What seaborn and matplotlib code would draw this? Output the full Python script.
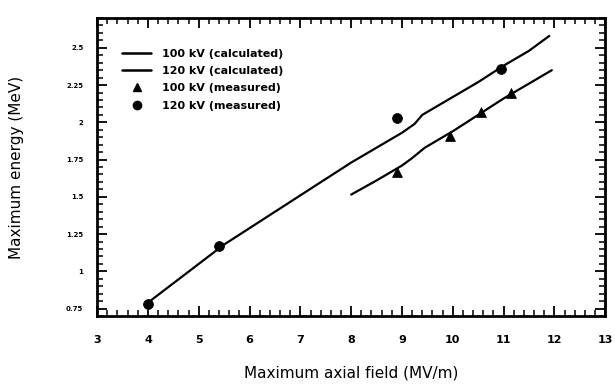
import numpy as np
import matplotlib
matplotlib.use("Agg")
import matplotlib.pyplot as plt
import seaborn as sns
import pandas as pd
from matplotlib.ticker import MultipleLocator, FuncFormatter
from matplotlib.lines import Line2D

# calculated curves
calc120_x = [4.0, 4.5, 5.0, 5.5, 6.0, 6.5, 7.0, 7.5, 8.0, 8.5, 9.0, 9.25, 9.4, 9.7, 10.0, 10.5, 11.0, 11.5, 11.9]
calc120_y = [0.79, 0.92, 1.05, 1.18, 1.29, 1.40, 1.51, 1.62, 1.73, 1.83, 1.93, 1.99, 2.05, 2.11, 2.17, 2.27, 2.38, 2.48, 2.58]
calc100_x = [8.0, 8.5, 9.0, 9.2, 9.45, 10.0, 10.5, 11.0, 11.5, 11.95]
calc100_y = [1.515, 1.61, 1.71, 1.76, 1.83, 1.94, 2.05, 2.16, 2.26, 2.35]

# measured points
meas100_x = [8.9, 9.95, 10.55, 11.15]
meas100_y = [1.67, 1.91, 2.07, 2.2]
meas120_x = [4.0, 5.4, 8.9, 10.95]
meas120_y = [0.78, 1.17, 2.03, 2.36]

sns.set_style("ticks")
plt.rcParams['font.family'] = ['DejaVu Sans']
plt.rcParams['text.color'] = 'black'
plt.rcParams['axes.labelcolor'] = 'black'
plt.rcParams['xtick.color'] = 'black'
plt.rcParams['ytick.color'] = 'black'

fig = plt.figure(figsize=(6.15, 3.84), dpi=100)
ax = fig.add_axes([0.158, 0.177, 0.826, 0.776])

sns.lineplot(x=calc100_x, y=calc100_y, ax=ax, color='black', linewidth=1.6, sort=False)
sns.lineplot(x=calc120_x, y=calc120_y, ax=ax, color='black', linewidth=1.6, sort=False)
sns.scatterplot(x=meas100_x, y=meas100_y, ax=ax, color='black', marker='^', s=50, edgecolor='black')
sns.scatterplot(x=meas120_x, y=meas120_y, ax=ax, color='black', marker='o', s=50, edgecolor='black')

ax.set_xlim(3, 13)
ax.set_ylim(0.7, 2.7)
ax.xaxis.set_major_locator(MultipleLocator(1))
ax.xaxis.set_minor_locator(MultipleLocator(0.2))
ax.yaxis.set_major_locator(MultipleLocator(0.25))
ax.yaxis.set_minor_locator(MultipleLocator(0.05))
ax.yaxis.set_major_formatter(FuncFormatter(lambda v, p: f'{v:g}'))

ax.tick_params(which='both', direction='in', top=True, right=True, color='black')
ax.tick_params(which='major', length=7, width=1.3)
ax.tick_params(which='minor', length=4, width=1.1)
ax.tick_params(axis='x', which='major', pad=14, labelsize=8, labelcolor='black')
ax.tick_params(axis='y', which='major', pad=10, labelsize=5, labelcolor='black')
for lab in ax.get_xticklabels() + ax.get_yticklabels():
    lab.set_fontweight('bold')
for s in ax.spines.values():
    s.set_linewidth(2)
    s.set_color('black')

ax.set_xlabel('Maximum axial field (MV/m)', fontsize=11, color='black')
ax.set_ylabel('Maximum energy (MeV)', fontsize=11, color='black')
ax.xaxis.set_label_coords(0.5, -0.165)
ax.yaxis.set_label_coords(-0.145, 0.5)

handles = [
    Line2D([], [], color='black', linewidth=1.8),
    Line2D([], [], color='black', linewidth=1.8),
    Line2D([], [], color='black', marker='^', linestyle='none', markersize=6),
    Line2D([], [], color='black', marker='o', linestyle='none', markersize=6),
]
labels = ['100 kV (calculated)', '120 kV (calculated)', '100 kV (measured)', '120 kV (measured)']
leg = ax.legend(handles, labels, loc='upper left', bbox_to_anchor=(0.03, 0.93), frameon=False,
                fontsize=8, handlelength=2.6, labelspacing=0.65, handletextpad=1.0)
for t in leg.get_texts():
    t.set_fontweight('bold')
    t.set_color('black')

fig.savefig('out.png', dpi=100)
